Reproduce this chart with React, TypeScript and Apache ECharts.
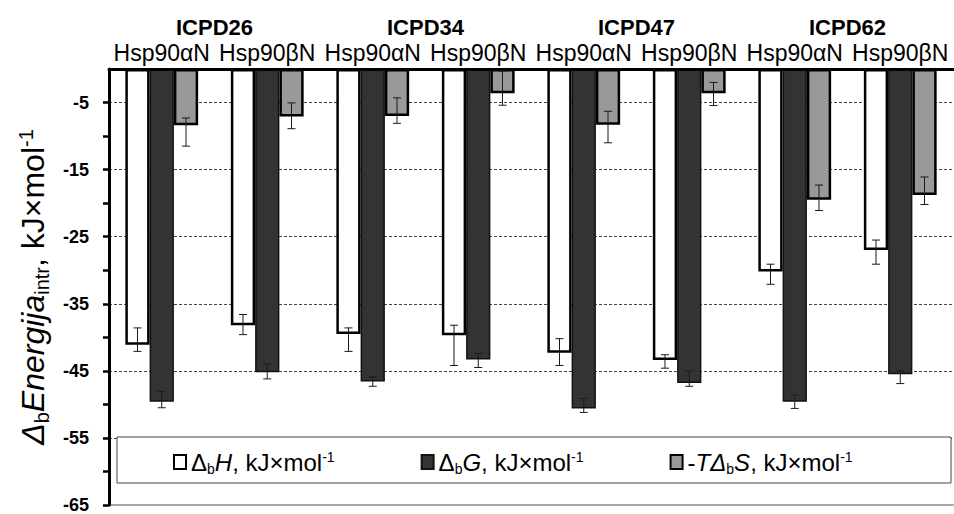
import React, { useEffect, useRef } from 'react';
import * as echarts from 'echarts';

const groups = ['ICPD26', 'ICPD34', 'ICPD47', 'ICPD62'];
const proteins = ['Hsp90αN', 'Hsp90βN', 'Hsp90αN', 'Hsp90βN', 'Hsp90αN', 'Hsp90βN', 'Hsp90αN', 'Hsp90βN'];

// ΔbH, kJ/mol
const dH = [-41.1, -38.2, -39.5, -39.7, -42.3, -43.4, -30.2, -27.0];
const dHTop = [-38.6, -36.6, -38.6, -38.2, -40.2, -42.6, -29.1, -25.5];
const dHBottom = [-42.1, -39.6, -42.1, -44.2, -44.2, -44.6, -32.1, -29.1];
// ΔbG, kJ/mol
const dG = [-49.6, -45.2, -46.6, -43.3, -50.6, -46.8, -49.6, -45.5];
const dGTop = [-48.1, -44.0, -45.9, -42.4, -49.1, -45.0, -48.6, -45.0];
const dGBottom = [-50.5, -46.2, -47.3, -44.5, -51.2, -47.3, -50.6, -46.9];
// -TΔbS, kJ/mol
const tdS = [-8.4, -7.1, -7.0, -3.6, -8.3, -3.6, -19.5, -18.8];
const tdSTop = [-7.3, -5.05, -4.3, -0.3, -6.3, -2.0, -17.3, -16.1];
const tdSBottom = [-11.5, -8.9, -8.1, -5.4, -11.0, -5.45, -21.1, -20.2];

const yMin = -65;
const yMax = 0;
const tickStep = 5;
const labelStep = 10;

const FONT = 'Arial, "Liberation Sans", sans-serif';
const BAR_GAP = 0.31;

const legendText: Record<string, string> = {
  dH: '{d|Δ}{s|b}{i|H}{n|, kJ×mol}{p|-1}',
  dG: '{d|Δ}{s|b}{i|G}{n|, kJ×mol}{p|-1}',
  tdS: '{n|-}{i|TΔ}{s|b}{i|S}{n|, kJ×mol}{p|-1}',
};

function errSeries(k: number, top: number[], bottom: number[]) {
  return {
    type: 'custom',
    xAxisIndex: 0,
    yAxisIndex: 0,
    z: 6,
    silent: true,
    encode: { x: 0, y: [1, 2] },
    data: top.map((t, i) => [i, t, bottom[i]]),
    renderItem: (params: any, api: any) => {
      const i = api.value(0);
      const p1 = api.coord([i, api.value(1)]);
      const p2 = api.coord([i, api.value(2)]);
      const catW = api.size([1, 0])[0];
      const barW = (catW * (1 - BAR_GAP)) / 3;
      const x = p1[0] + (k - 1) * barW;
      const cap = 4;
      const st = { stroke: '#1a1a1a', lineWidth: 1 };
      return {
        type: 'group',
        children: [
          { type: 'line', shape: { x1: x, y1: p1[1], x2: x, y2: p2[1] }, style: st },
          { type: 'line', shape: { x1: x - cap, y1: p1[1], x2: x + cap, y2: p1[1] }, style: st },
          { type: 'line', shape: { x1: x - cap, y1: p2[1], x2: x + cap, y2: p2[1] }, style: st },
        ],
      };
    },
  };
}

export default function App() {
  const ref = useRef<HTMLDivElement>(null);
  useEffect(() => {
    if (!ref.current) return;
    const chart = echarts.init(ref.current, undefined, { renderer: 'svg' });
    const legendRich = {
      n: { fontSize: 24, lineHeight: 28, fontFamily: FONT, color: '#000' },
      d: { fontSize: 24, lineHeight: 28, fontFamily: FONT, color: '#000' },
      i: { fontSize: 24, lineHeight: 28, fontFamily: FONT, fontStyle: 'italic', color: '#000' },
      s: { fontSize: 14, fontFamily: FONT, verticalAlign: 'bottom', color: '#000' },
      p: { fontSize: 14, fontFamily: FONT, verticalAlign: 'top', padding: [2, 0, 0, 0], color: '#000' },
    };
    const nameRich = {
      n: { fontSize: 32, lineHeight: 38, fontFamily: FONT, color: '#000' },
      i: { fontSize: 32, lineHeight: 38, fontFamily: FONT, fontStyle: 'italic', color: '#000' },
      s: { fontSize: 20, fontFamily: FONT, verticalAlign: 'bottom', color: '#000' },
      p: { fontSize: 20, fontFamily: FONT, verticalAlign: 'top', padding: [2, 0, 0, 0], color: '#000' },
    };
    chart.setOption({
      animation: false,
      backgroundColor: '#fff',
      textStyle: { fontFamily: FONT },
      grid: { left: 109, right: 1, top: 69, bottom: 8 },
      graphic: [
        {
          type: 'rect',
          z: 10,
          shape: { x: 117, y: 437, width: 834, height: 46 },
          style: { fill: '#fff', stroke: '#444', lineWidth: 1 },
        },
      ],
      legend: {
        z: 20,
        left: 168,
        top: 445,
        itemWidth: 12,
        itemHeight: 14,
        itemGap: 86,
        icon: 'rect',
        data: ['dH', 'dG', 'tdS'],
        formatter: (name: string) => legendText[name],
        textStyle: { fontSize: 24, fontFamily: FONT, color: '#000', rich: legendRich },
      },
      xAxis: [
        {
          type: 'category',
          position: 'top',
          data: proteins,
          axisLine: { lineStyle: { color: '#000', width: 3 } },
          axisTick: { inside: true, length: 5, lineStyle: { color: '#000', width: 2.5 } },
          axisLabel: { interval: 0, fontSize: 23, fontFamily: FONT, color: '#000', margin: 5 },
          splitLine: { show: false },
          z: 5,
        },
        {
          type: 'category',
          position: 'top',
          offset: 31,
          data: groups,
          axisLine: { show: false },
          axisTick: { show: false },
          axisLabel: { interval: 0, fontSize: 22, fontWeight: 'bold', fontFamily: FONT, color: '#000', margin: 0 },
          splitLine: { show: false },
        },
        {
          type: 'category',
          position: 'bottom',
          data: proteins,
          axisLine: { show: true, lineStyle: { color: '#a6a6a6', width: 2 } },
          axisTick: { show: false },
          axisLabel: { show: false },
          splitLine: { show: false },
        },
      ],
      yAxis: [
        {
          type: 'value',
          min: yMin,
          max: yMax,
          interval: tickStep,
          axisLine: { show: true, lineStyle: { color: '#000', width: 3 } },
          axisTick: { show: true, length: 6, lineStyle: { color: '#000', width: 2.5 } },
          axisLabel: {
            fontSize: 18,
            fontWeight: 'bold',
            fontFamily: FONT,
            color: '#000',
            margin: 20,
            showMaxLabel: false,
            formatter: (v: number) => ((v - yMin) % labelStep === 0 && v !== yMax ? String(v) : ''),
          },
          splitLine: { show: false },
          name: '{i|Δ}{s|b}{i|Energija}{s|intr}{n|, kJ×mol}{p|-1}',
          nameLocation: 'middle',
          nameRotate: 90,
          nameGap: 56,
          nameTextStyle: { rich: nameRich },
          z: 5,
        },
        {
          type: 'value',
          min: yMin,
          max: yMax,
          interval: labelStep,
          position: 'left',
          axisLine: { show: false },
          axisTick: { show: false },
          axisLabel: { show: false },
          splitLine: { show: true, lineStyle: { color: '#444', width: 1, type: [3, 2] } },
        },
      ],
      series: [
        {
          name: 'dH',
          type: 'bar',
          xAxisIndex: 0,
          yAxisIndex: 0,
          data: dH,
          barGap: '0%',
          barCategoryGap: '31%',
          itemStyle: { color: '#fff', borderColor: '#000', borderWidth: 2.5 },
        },
        {
          name: 'dG',
          type: 'bar',
          xAxisIndex: 0,
          yAxisIndex: 0,
          data: dG,
          barGap: '0%',
          barCategoryGap: '31%',
          itemStyle: { color: '#333333', borderColor: '#111', borderWidth: 1.5 },
        },
        {
          name: 'tdS',
          type: 'bar',
          xAxisIndex: 0,
          yAxisIndex: 0,
          data: tdS,
          barGap: '0%',
          barCategoryGap: '31%',
          itemStyle: { color: '#999999', borderColor: '#000', borderWidth: 2.5 },
        },
        errSeries(0, dHTop, dHBottom),
        errSeries(1, dGTop, dGBottom),
        errSeries(2, tdSTop, tdSBottom),
      ],
    });
    return () => chart.dispose();
  }, []);
  return <div ref={ref} style={{ width: 954, height: 514, position: 'fixed', left: 0, top: 0 }} />;
}
